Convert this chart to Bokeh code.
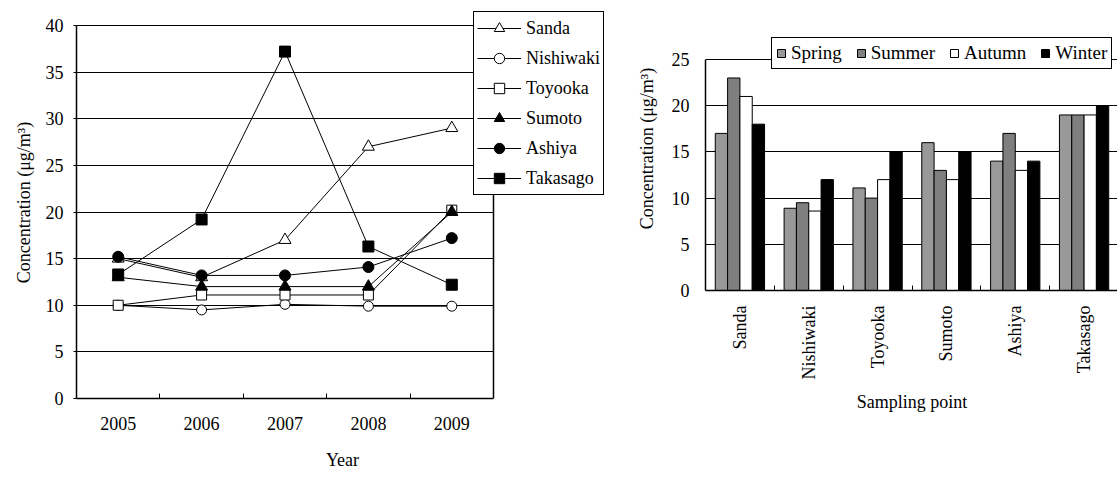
import math

from bokeh.plotting import figure
from bokeh.layouts import row
from bokeh.models import (FixedTicker, Legend, LegendItem, ColumnDataSource,
                          Range1d, LinearAxis)
from bokeh.transform import dodge
from bokeh.embed import file_html
from bokeh.resources import INLINE

# ---- annual mean concentrations by sampling point ----
years = ["2005", "2006", "2007", "2008", "2009"]
sanda = [15, 13, 17, 27, 29]
nishiwaki = [10, 9.5, 10.1, 9.9, 9.9]
toyooka = [10, 11.1, 11.1, 11.1, 20.2]
sumoto = [13, 12, 12, 12, 20]
ashiya = [15.2, 13.2, 13.2, 14.1, 17.2]
takasago = [13.3, 19.2, 37.2, 16.3, 12.2]

# ---- seasonal mean concentrations ----
sites = ["Sanda", "Nishiwaki", "Toyooka", "Sumoto", "Ashiya", "Takasago"]
seasons = ["Spring", "Summer", "Autumn", "Winter"]
spring = [17, 8.9, 11.1, 16, 14, 19]
summer = [23, 9.5, 10, 13, 17, 19]
autumn = [21, 8.6, 12, 12, 13, 19]
winter = [18, 12, 15, 15, 14, 20]

FONT = "Liberation Serif"
FS = "18px"
YLABEL = "Concentration (\u03bcg/m\u00b3)"
TOP = 6  # shared top border of both frames


def style_axes(p):
    for ax in (p.xaxis[0], p.yaxis[0]):
        ax.axis_line_color = "black"
        ax.axis_line_width = 1.5
        ax.major_label_text_font = FONT
        ax.major_label_text_font_size = FS
        ax.major_label_text_color = "black"
        ax.axis_label_text_font = FONT
        ax.axis_label_text_font_size = FS
        ax.axis_label_text_font_style = "normal"
        ax.axis_label_text_color = "black"
        ax.major_tick_line_color = "black"
        ax.minor_tick_line_color = "black"
    p.outline_line_color = None
    p.xgrid.visible = False
    p.ygrid.grid_line_color = "black"
    p.ygrid.grid_line_width = 1
    p.ygrid.grid_line_alpha = 1.0
    p.background_fill_color = "white"
    p.border_fill_color = "white"


def edge_axis(loc, lo, hi):
    """Plain line used to close the value box on its right side."""
    return LinearAxis(fixed_location=loc, bounds=(lo, hi),
                      ticker=FixedTicker(ticks=[]),
                      axis_line_color="black", axis_line_width=1.5,
                      major_tick_out=0, major_tick_in=0, minor_tick_out=0,
                      minor_tick_in=0, major_label_standoff=0,
                      axis_label_standoff=0)


# ---------------- left: yearly trend lines ----------------
xs = list(range(1, len(years) + 1))
Y1_MAX = 40
box_w, box_h = 417, 373          # size of the value box in pixels
frame1_w, frame1_h = 532, 392    # frame also holds the legend
x1_end = 0.5 + len(years) * frame1_w / box_w
y1_end = Y1_MAX * frame1_h / box_h

p1 = figure(output_backend="svg", toolbar_location=None, title=None,
            frame_width=frame1_w, frame_height=frame1_h,
            min_border_left=76, min_border_right=25,
            min_border_top=TOP, min_border_bottom=79,
            x_range=Range1d(0.5, x1_end), y_range=Range1d(0, y1_end))
style_axes(p1)

p1.xaxis.bounds = (0.5, len(years) + 0.5)
p1.xaxis.ticker = FixedTicker(ticks=xs, minor_ticks=[x + 0.5 for x in xs[:-1]])
p1.xaxis.major_label_overrides = {x: y for x, y in zip(xs, years)}
p1.xaxis.major_tick_in = 0
p1.xaxis.major_tick_out = 0
p1.xaxis.minor_tick_in = 5
p1.xaxis.minor_tick_out = 0
p1.xaxis.major_label_standoff = 18
p1.xaxis.axis_label = "Year"
p1.xaxis.axis_label_standoff = 17

p1.yaxis.bounds = (0, Y1_MAX)
p1.yaxis.ticker = FixedTicker(ticks=list(range(0, Y1_MAX + 1, 5)))
p1.yaxis.major_tick_in = 0
p1.yaxis.major_tick_out = 3
p1.yaxis.major_label_standoff = 10
p1.yaxis.axis_label = YLABEL
p1.yaxis.axis_label_standoff = 9
p1.ygrid.cross_bounds = (0.5, len(years) + 0.5)

p1.add_layout(edge_axis(len(years) + 0.5, 0, Y1_MAX), "right")

series = [
    ("Sanda", sanda, "triangle", "white", 12),
    ("Nishiwaki", nishiwaki, "circle", "white", 10),
    ("Toyooka", toyooka, "square", "white", 10),
    ("Sumoto", sumoto, "triangle", "black", 12),
    ("Ashiya", ashiya, "circle", "black", 11),
    ("Takasago", takasago, "square", "black", 11),
]
items = []
for name, vals, marker, fill, size in series:
    ln = p1.line(xs, vals, line_color="black", line_width=1)
    pts = p1.scatter(xs, vals, marker=marker, size=size, fill_color=fill,
                     line_color="black", line_width=1)
    items.append(LegendItem(label=name, renderers=[ln, pts]))

leg1 = Legend(items=items, location=(397, 203), orientation="vertical",
              label_text_font=FONT, label_text_font_size=FS,
              label_text_color="black",
              glyph_width=44, glyph_height=26, label_height=20,
              spacing=4, padding=3, label_standoff=5, margin=0,
              border_line_color="black", border_line_width=1, border_line_alpha=1,
              background_fill_color="white", background_fill_alpha=1)
p1.add_layout(leg1)

# ---------------- right: seasonal bars ----------------
xi = list(range(1, len(sites) + 1))
src = ColumnDataSource(dict(x=xi, Spring=spring, Summer=summer,
                            Autumn=autumn, Winter=winter))

Y2_MAX = 25
box2_h, frame2_h = 231, 284
y2_end = Y2_MAX * frame2_h / box2_h
p2 = figure(output_backend="svg", toolbar_location=None, title=None,
            frame_width=413, frame_height=frame2_h,
            min_border_left=70, min_border_right=0,
            min_border_top=TOP, min_border_bottom=187,
            x_range=Range1d(0.5, len(sites) + 0.5), y_range=Range1d(0, y2_end))
style_axes(p2)

p2.xaxis.ticker = FixedTicker(ticks=xi, minor_ticks=[x + 0.5 for x in xi[:-1]])
p2.xaxis.major_label_overrides = {x: s for x, s in zip(xi, sites)}
p2.xaxis.major_label_orientation = math.pi / 2
p2.xaxis.major_tick_in = 0
p2.xaxis.major_tick_out = 0
p2.xaxis.minor_tick_in = 5
p2.xaxis.minor_tick_out = 0
p2.xaxis.major_label_standoff = 15
p2.xaxis.axis_label = "Sampling point"
p2.xaxis.axis_label_standoff = 10

p2.yaxis.bounds = (0, Y2_MAX)
p2.yaxis.ticker = FixedTicker(ticks=list(range(0, Y2_MAX + 1, 5)))
p2.yaxis.major_tick_in = 0
p2.yaxis.major_tick_out = 0
p2.yaxis.major_label_standoff = 16
p2.yaxis.axis_label = YLABEL
p2.yaxis.axis_label_standoff = 12

right2 = edge_axis(None, 0, Y2_MAX)
p2.add_layout(right2, "right")

bar_w = 0.179
fills = ["#999999", "#7f7f7f", "white", "black"]
bar_items = []
for k, (season, color) in enumerate(zip(seasons, fills)):
    off = (k - 1.5) * bar_w
    r = p2.vbar(x=dodge("x", off, range=p2.x_range), top=season, width=bar_w,
                source=src, fill_color=color, line_color="black", line_width=1)
    bar_items.append(LegendItem(label=season, renderers=[r]))

leg2 = Legend(items=bar_items, location=(66, 221), orientation="horizontal",
              label_text_font=FONT, label_text_font_size="19px",
              label_text_color="black",
              glyph_width=10, glyph_height=10, label_height=18,
              spacing=14, padding=4, label_standoff=5, margin=0,
              border_line_color="black", border_line_width=1, border_line_alpha=1,
              background_fill_color="white", background_fill_alpha=1)
p2.add_layout(leg2)

layout = row(p1, p2)
open("out.html", "w").write(file_html(layout, INLINE))
